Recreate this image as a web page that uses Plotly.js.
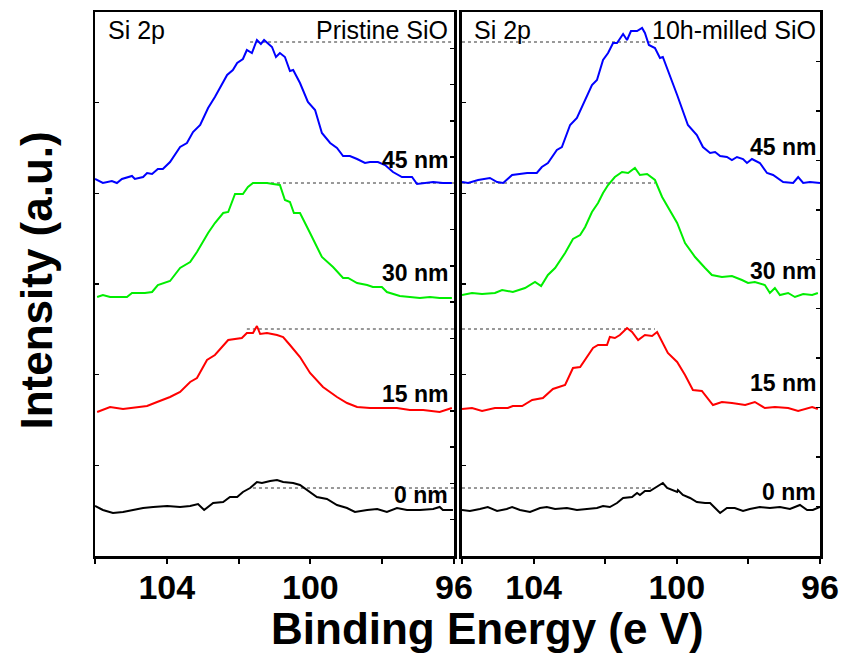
<!DOCTYPE html>
<html>
<head>
<meta charset="utf-8">
<script src="https://cdn.plot.ly/plotly-3.0.1.min.js"></script>
<style>html,body{margin:0;padding:0;background:#fff;}#chart{width:847px;height:656px;}</style>
</head>
<body>
<div id="chart"></div>
<script>
// ---------- Data (binding energy in eV, intensity in a.u., stacked) ----------
// Pristine SiO (left panel)
const P45_E = [106.00,105.78,105.53,105.39,105.25,104.97,104.89,104.66,104.55,104.41,104.25,104.11,103.91,103.63,103.44,103.27,103.07,102.85,102.66,102.52,102.32,102.16,102.04,101.88,101.77,101.63,101.49,101.38,101.29,101.07,100.96,100.85,100.71,100.57,100.48,100.29,100.07,99.87,99.68,99.45,99.26,99.09,98.90,98.70,98.48,98.34,98.12,97.92,97.70,97.45,97.17,97.03,96.86,96.58,96.31,96.06];
const P45_I = [377,373,375,373,377,380,377,379,383,382,387,387,394,409,413,424,431,448,459,468,481,486,493,497,506,503,516,512,516,509,499,503,499,485,486,473,454,446,423,413,408,400,400,397,393,394,394,391,384,379,379,372,373,374,373,373];

const P30_E = [105.94,105.78,105.58,105.11,104.97,104.61,104.41,104.25,103.91,103.63,103.35,103.16,102.85,102.66,102.43,102.29,102.10,101.88,101.74,101.60,101.40,101.21,101.04,100.85,100.71,100.57,100.46,100.29,100.01,99.68,99.37,99.09,98.95,98.70,98.42,98.26,98.01,97.87,97.51,97.23,96.95,96.67,96.40,96.06];
const P30_I = [259,261,259,259,263,263,264,271,275,288,294,304,323,333,343,344,362,362,369,373,373,373,372,371,356,354,343,343,323,299,289,278,278,273,271,269,269,264,260,259,258,259,258,258];

const P15_E = [105.94,105.58,105.22,104.83,104.55,104.27,103.91,103.63,103.35,103.16,102.88,102.66,102.46,102.29,101.91,101.77,101.60,101.49,101.40,101.21,100.93,100.76,100.57,100.29,100.01,99.65,99.26,98.98,98.70,98.34,98.06,97.59,97.23,96.86,96.40,96.06];
const P15_I = [144,149,147,149,150,154,159,164,174,178,196,201,209,216,218,223,223,230,222,223,221,219,211,199,183,169,159,153,149,148,148,148,146,146,144,148];

const P0_E = [106.00,105.78,105.50,105.22,104.94,104.66,104.38,103.99,103.63,103.35,103.13,102.96,102.71,102.43,102.24,102.04,101.88,101.68,101.49,101.35,101.12,100.93,100.76,100.48,100.29,100.01,99.82,99.54,99.26,98.98,98.76,98.42,98.14,97.87,97.59,97.31,96.95,96.58,96.40,96.31,96.03];
const P0_I = [50,46,43,44,46,48,49,50,49,50,52,46,53,54,59,59,64,68,74,73,75,76,74,73,71,64,59,57,51,48,44,46,47,44,48,46,46,47,49,46,46];

// 10h-milled SiO (right panel)
const M45_E = [106.00,105.83,105.55,105.22,105.02,104.85,104.60,104.44,104.18,103.91,103.77,103.60,103.35,103.21,102.98,102.79,102.62,102.37,102.23,102.06,101.92,101.78,101.67,101.50,101.39,101.28,101.11,100.97,100.89,100.78,100.61,100.47,100.39,100.19,99.99,99.69,99.44,99.27,99.07,98.93,98.79,98.60,98.46,98.32,98.15,98.04,97.90,97.68,97.48,97.31,97.03,96.75,96.61,96.47,96.28,96.00];
const M45_I = [374,373,376,378,374,373,381,382,383,383,389,393,406,409,431,438,451,471,476,496,503,513,513,522,516,525,525,528,523,511,508,498,499,481,461,431,421,409,403,404,400,399,396,399,397,393,397,393,383,381,374,373,379,373,374,373];

const M30_E = [106.00,105.72,105.44,105.08,104.88,104.58,104.24,103.96,103.79,103.60,103.40,103.12,102.90,102.70,102.56,102.37,102.20,102.06,101.92,101.73,101.53,101.36,101.17,101.03,100.83,100.61,100.41,100.25,99.99,99.77,99.49,99.21,99.02,98.74,98.46,98.18,98.01,97.82,97.54,97.40,97.26,97.12,96.89,96.70,96.47,96.22,96.06];
const M30_I = [261,263,262,263,266,264,268,274,270,281,288,303,317,321,329,344,353,363,371,379,384,383,388,381,382,376,359,349,333,313,299,288,281,279,280,276,273,274,271,263,268,261,263,259,262,261,263];

const M15_E = [106.00,105.72,105.44,105.08,104.72,104.58,104.32,104.04,103.74,103.46,103.12,102.90,102.70,102.56,102.34,102.20,101.95,101.87,101.73,101.59,101.39,101.25,101.08,100.89,100.69,100.55,100.41,100.25,99.99,99.77,99.55,99.30,98.99,98.74,98.46,98.09,97.82,97.54,97.26,96.89,96.61,96.22,96.06];
const M15_I = [147,148,145,148,148,150,150,156,158,167,171,188,189,196,208,211,211,219,218,221,228,224,216,221,220,224,214,203,194,181,166,165,151,154,153,151,154,148,149,148,145,149,147];

const M0_E = [106.00,105.78,105.50,105.28,105.02,104.75,104.60,104.38,104.10,103.82,103.63,103.40,103.07,102.79,102.51,102.23,102.06,101.87,101.67,101.50,101.25,101.11,101.03,100.89,100.75,100.61,100.47,100.39,100.27,100.13,99.99,99.97,99.83,99.63,99.44,99.21,99.07,98.93,98.79,98.60,98.38,98.15,97.96,97.68,97.40,97.12,96.84,96.56,96.36,96.20,96.00];
const M0_I = [46,45,47,49,45,47,49,46,44,48,49,47,48,46,47,48,50,49,53,58,59,63,61,65,65,68,71,73,68,66,64,66,61,58,54,53,53,48,43,48,48,45,47,49,48,49,47,51,46,46,49];

// Reference (dashed) lines at the peak maxima
const refLevel   = [514, 373, 227, 68];
const refStartP  = [101.68, 101.60, 101.77, 101.60];
const refEndM    = [100.53, 100.61, 100.61, 100.66];

// Labels
const depthLabels = ['45 nm', '30 nm', '15 nm', '0 nm'];
const depthLabelP = [396, 283, 162, 61];
const depthLabelM = [409, 285, 173, 64];
const panelTitles = ['Pristine SiO', '10h-milled SiO'];
const coreLevel = 'Si 2p';
const tickVals = [106, 104, 102, 100, 98, 96];
const tickText = ['', '104', '', '100', '', '96'];

const colors = ['#0000ff', '#00ee00', '#ff0000', '#000000'];

// ---------- Traces ----------
const leftSets = [[P45_E, P45_I], [P30_E, P30_I], [P15_E, P15_I], [P0_E, P0_I]];
const rightSets = [[M45_E, M45_I], [M30_E, M30_I], [M15_E, M15_I], [M0_E, M0_I]];
const traces = [];
leftSets.forEach((s, i) => traces.push({x: s[0], y: s[1], xaxis: 'x', yaxis: 'y', mode: 'lines', line: {color: colors[i], width: 2}, hoverinfo: 'skip'}));
rightSets.forEach((s, i) => traces.push({x: s[0], y: s[1], xaxis: 'x2', yaxis: 'y2', mode: 'lines', line: {color: colors[i], width: 2}, hoverinfo: 'skip'}));
traces.push({x: [], y: [], xaxis: 'x', yaxis: 'y3', mode: 'lines'});
traces.push({x: [], y: [], xaxis: 'x2', yaxis: 'y4', mode: 'lines'});

// ---------- Layout ----------
const font = 'Arial, Liberation Sans, sans-serif';
const yr = [0, 544];
const xBase = {
  range: [106, 96], tickmode: 'array', tickvals: tickVals, ticktext: tickText,
  ticks: 'outside', ticklen: 5, tickwidth: 2, tickcolor: '#000',
  showline: true, linewidth: 2.5, linecolor: '#000', mirror: true,
  showgrid: false, zeroline: false, ticklabelstandoff: -5,
  tickfont: {family: font, size: 34, color: '#000', weight: 'bold'}
};
const yBase = {
  range: yr, showgrid: false, zeroline: false, showticklabels: false,
  ticks: 'inside', ticklen: 4, tickwidth: 1.5, tickcolor: '#000', tick0: 0
};

const shapes = [];
refLevel.forEach((lv, i) => {
  shapes.push({type: 'line', xref: 'x', yref: 'y', x0: refStartP[i], x1: 96, y0: lv, y1: lv, layer: 'below', line: {color: '#333', width: 1, dash: '3px,3px'}});
  shapes.push({type: 'line', xref: 'x2', yref: 'y2', x0: 106, x1: refEndM[i], y0: lv, y1: lv, layer: 'below', line: {color: '#333', width: 1, dash: '3px,3px'}});
});

const annotations = [];
depthLabels.forEach((t, i) => {
  annotations.push({xref: 'x', yref: 'y', x: 96.1, y: depthLabelP[i], text: t, showarrow: false, xanchor: 'right', yanchor: 'middle', font: {family: font, size: 23, color: '#000', weight: 'bold'}});
  annotations.push({xref: 'x2', yref: 'y2', x: 96.05, y: depthLabelM[i], text: t, showarrow: false, xanchor: 'right', yanchor: 'middle', font: {family: font, size: 23, color: '#000', weight: 'bold'}});
});
annotations.push({xref: 'x', yref: 'y', x: 105.7, y: 526, text: coreLevel, showarrow: false, xanchor: 'left', yanchor: 'middle', font: {family: font, size: 25, color: '#000'}});
annotations.push({xref: 'x2', yref: 'y2', x: 105.72, y: 526, text: coreLevel, showarrow: false, xanchor: 'left', yanchor: 'middle', font: {family: font, size: 25, color: '#000'}});
annotations.push({xref: 'x', yref: 'y', x: 96.1, y: 526, text: panelTitles[0], showarrow: false, xanchor: 'right', yanchor: 'middle', font: {family: font, size: 25, color: '#000'}});
annotations.push({xref: 'x2', yref: 'y2', x: 96.05, y: 526, text: panelTitles[1], showarrow: false, xanchor: 'right', yanchor: 'middle', font: {family: font, size: 25, color: '#000'}});
// axis titles
annotations.push({xref: 'paper', yref: 'paper', x: 0.541, y: -0.133, text: 'Binding Energy (e V)', showarrow: false, xanchor: 'center', yanchor: 'middle', font: {family: font, size: 44, color: '#000', weight: 'bold'}});
annotations.push({xref: 'paper', yref: 'paper', x: -0.082, y: 0.5055, text: 'Intensity (a.u.)', textangle: -90, showarrow: false, xanchor: 'center', yanchor: 'middle', font: {family: font, size: 44, color: '#000', weight: 'bold'}});

const layout = {
  width: 847, height: 656,
  margin: {l: 95, r: 27, t: 12, b: 100},
  paper_bgcolor: '#fff', plot_bgcolor: '#fff',
  showlegend: false,
  xaxis: Object.assign({}, xBase, {domain: [0, 0.4952], anchor: 'y'}),
  xaxis2: Object.assign({}, xBase, {domain: [0.5062, 1], anchor: 'y2'}),
  yaxis: Object.assign({}, yBase, {anchor: 'x', dtick: 544 / 6, showline: true, linewidth: 2.5, linecolor: '#000', mirror: true}),
  yaxis3: Object.assign({}, yBase, {anchor: 'x', overlaying: 'y', side: 'right', dtick: 544 / 15, showline: false}),
  yaxis2: Object.assign({}, yBase, {anchor: 'x2', dtick: 544 / 6, showline: true, linewidth: 2.5, linecolor: '#000', mirror: true}),
  yaxis4: Object.assign({}, yBase, {anchor: 'x2', overlaying: 'y2', side: 'right', dtick: 544 / 11, showline: false}),
  shapes: shapes,
  annotations: annotations
};

Plotly.newPlot('chart', traces, layout, {staticPlot: true, displayModeBar: false});
</script>
</body>
</html>
